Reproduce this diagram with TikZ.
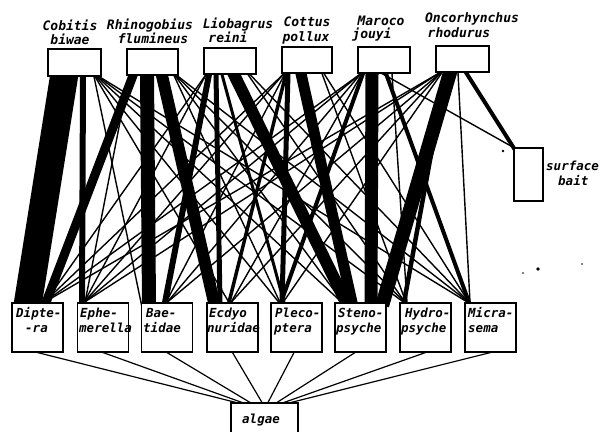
\documentclass[tikz,border=0pt]{standalone}
\usepackage{fontspec}
\newfontfamily\lett{DejaVu Sans Mono}
\usetikzlibrary{calc}
\pgfdeclarelayer{bg}
\pgfsetlayers{bg,main}
\tikzset{
  box/.style={draw, line width=1.1pt, fill=white, inner sep=0pt},
  lbl/.style={font=\lett\bfseries\itshape\fontsize{13}{15}\selectfont, inner sep=0pt, anchor=base},
  plbl/.style={font=\lett\bfseries\itshape\fontsize{12.5}{14}\selectfont, inner sep=0pt, anchor=base west},
  link/.style={line cap=butt, shorten <=-3pt, shorten >=-3pt},
  feed/.style={line width=1.2pt, shorten <=-2pt, shorten >=-2pt},
}
% predator -> prey link: predator, x on its lower edge, prey, x on its upper edge, width
\newcommand{\lnk}[5]{\draw[link,line width=#5pt] (#1.south -| #2,0) -- (#3.north -| #4,0);}
\begin{document}
\begin{tikzpicture}[x={(1pt,0)}, y={(0,-1pt)}]
\useasboundingbox (0,0) rectangle (610,431);

% fish
\node[box, minimum width=53pt, minimum height=27pt] (cob) at (74.5,62.5) {};
\node[box, minimum width=51pt, minimum height=26pt] (rhi) at (152.5,62) {};
\node[box, minimum width=52pt, minimum height=26pt] (lio) at (230,61) {};
\node[box, minimum width=50pt, minimum height=26pt] (cot) at (307,60) {};
\node[box, minimum width=52pt, minimum height=26pt] (mar) at (384,60) {};
\node[box, minimum width=53pt, minimum height=26pt] (onc) at (462.5,59) {};
\node[box, minimum width=29pt, minimum height=53pt] (bait) at (528.5,174.5) {};

% prey
\foreach \n/\x in {dip/37.5, eph/103, bae/167, ecd/232.5, ple/296.5, ste/360.5, hyd/425.5, mic/490.5}
  \node[box, minimum width=51pt, minimum height=49pt] (\n) at (\x,327.5) {};
\node[box, minimum width=67pt, minimum height=31pt] (alg) at (264.5,418.5) {};

% fish names
\node[lbl] (t1a) at (70,30) {Cobitis};
\node[lbl] (t1b) at (70,44) {biwae};
\node[lbl] (t2a) at (150,29) {Rhinogobius};
\node[lbl] (t2b) at (153,43) {flumineus};
\node[lbl] (t3a) at (238,28) {Liobagrus};
\node[lbl] (t3b) at (228,42) {reini};
\node[lbl] (t4a) at (307,27) {Cottus};
\node[lbl] (t4b) at (306,41) {pollux};
\node[lbl] (t5a) at (381,25) {Maroco};
\node[lbl] (t5b) at (372,38) {jouyi};
\node[lbl] (t6a) at (472,23) {Oncorhynchus};
\node[lbl] (t6b) at (459,37) {rhodurus};
\node[plbl] (t7a) at (546,170) {surface};
\node[plbl] (t7b) at (558,185) {bait};

% prey names
\node[plbl] (p1a) at (16,317) {Dipte-};
\node[plbl] (p1b) at (25,332) {-ra};
\node[plbl] (p2a) at (80,317) {Ephe-};
\node[plbl] (p2b) at (79,332) {merella};
\node[plbl] (p3a) at (146,317) {Bae-};
\node[plbl] (p3b) at (143,332) {tidae};
\node[plbl] (p4a) at (209,317) {Ecdyo};
\node[plbl] (p4b) at (207,332) {nuridae};
\node[plbl] (p5a) at (275,317) {Pleco-};
\node[plbl] (p5b) at (274,332) {ptera};
\node[plbl] (p6a) at (338,317) {Steno-};
\node[plbl] (p6b) at (336,332) {psyche};
\node[plbl] (p7a) at (405,317) {Hydro-};
\node[plbl] (p7b) at (401,332) {psyche};
\node[plbl] (p8a) at (468,317) {Micra-};
\node[plbl] (p8b) at (468,332) {sema};
\node[plbl] (p9) at (242,423) {algae};

\begin{pgfonlayer}{bg}
% Cobitis biwae
\lnk{cob}{64}{dip}{28}{28}
\lnk{cob}{83}{eph}{82}{6}
\lnk{cob}{94}{bae}{141}{1.4}
\lnk{cob}{95}{ecd}{229}{1.4}
\lnk{cob}{96}{ple}{279}{1.4}
\lnk{cob}{97}{ste}{342}{1.4}
\lnk{cob}{98}{hyd}{404}{1.4}
\lnk{cob}{99}{mic}{468}{1.4}
% Rhinogobius flumineus
\lnk{rhi}{133}{dip}{46}{9}
\lnk{rhi}{129}{eph}{85}{1.4}
\lnk{rhi}{147}{bae}{149}{14}
\lnk{rhi}{162}{ecd}{214}{12}
\lnk{rhi}{174}{ple}{280}{1.4}
\lnk{rhi}{175}{ste}{343}{1.4}
\lnk{rhi}{176}{hyd}{405}{1.4}
\lnk{rhi}{177}{mic}{469}{1.4}
% Liobagrus reini
\lnk{lio}{206}{dip}{45}{1.4}
\lnk{lio}{206}{eph}{84}{1.4}
\lnk{lio}{209}{bae}{165}{6}
\lnk{lio}{216}{ecd}{220}{5}
\lnk{lio}{222}{ple}{284}{3}
\lnk{lio}{234}{ste}{346}{12}
\lnk{lio}{248}{hyd}{405}{1.4}
\lnk{lio}{250}{mic}{469}{1.4}
% Cottus pollux
\lnk{cot}{284}{dip}{44}{1.4}
\lnk{cot}{284}{eph}{84}{1.4}
\lnk{cot}{285}{bae}{166}{1.4}
\lnk{cot}{286}{ecd}{229}{3.5}
\lnk{cot}{288}{ple}{282}{5}
\lnk{cot}{301}{ste}{352}{11}
\lnk{cot}{322}{hyd}{406}{1.4}
\lnk{cot}{324}{mic}{469}{1.4}
% Maroco jouyi
\lnk{mar}{361}{dip}{44}{1.4}
\lnk{mar}{361}{eph}{84}{1.4}
\lnk{mar}{361}{bae}{167}{1.4}
\lnk{mar}{362}{ecd}{231}{1.4}
\lnk{mar}{363}{ple}{281}{4}
\lnk{mar}{372}{ste}{371}{13}
\lnk{mar}{392}{hyd}{407}{1.4}
\lnk{mar}{386}{mic}{469}{4}
\draw[link, line width=1.4pt] (mar.south -| 382,0) -- (bait.north west);
% Oncorhynchus rhodurus
\lnk{onc}{440}{dip}{44}{1.4}
\lnk{onc}{440}{eph}{84}{1.4}
\lnk{onc}{441}{bae}{167}{1.4}
\lnk{onc}{441}{ecd}{231}{1.4}
\lnk{onc}{442}{ple}{283}{1.4}
\lnk{onc}{450}{ste}{383}{14}
\lnk{onc}{446}{hyd}{404}{4.5}
\lnk{onc}{458}{mic}{470}{1.4}
\draw[link, line width=4pt] (onc.south -| 466,0) -- (bait.north west);
% prey -> algae
\draw[feed] (dip.south) -- (alg.north -| 236,0);
\draw[feed] (eph.south) -- (alg.north -| 242,0);
\draw[feed] (bae.south) -- (alg.north -| 250,0);
\draw[feed] (ecd.south) -- (alg.north -| 262,0);
\draw[feed] (ple.south -| 294,0) -- (alg.north -| 268,0);
\draw[feed] (ste.south -| 355,0) -- (alg.north -| 277,0);
\draw[feed] (hyd.south) -- (alg.north -| 284,0);
\draw[feed] (mic.south) -- (alg.north -| 291,0);
\end{pgfonlayer}

% specks
\fill (503,151) circle[radius=1.3pt];
\fill (538,269) circle[radius=1.8pt];
\fill (523,273) circle[radius=0.8pt];
\fill (582,264) circle[radius=0.9pt];
\end{tikzpicture}
\end{document}
